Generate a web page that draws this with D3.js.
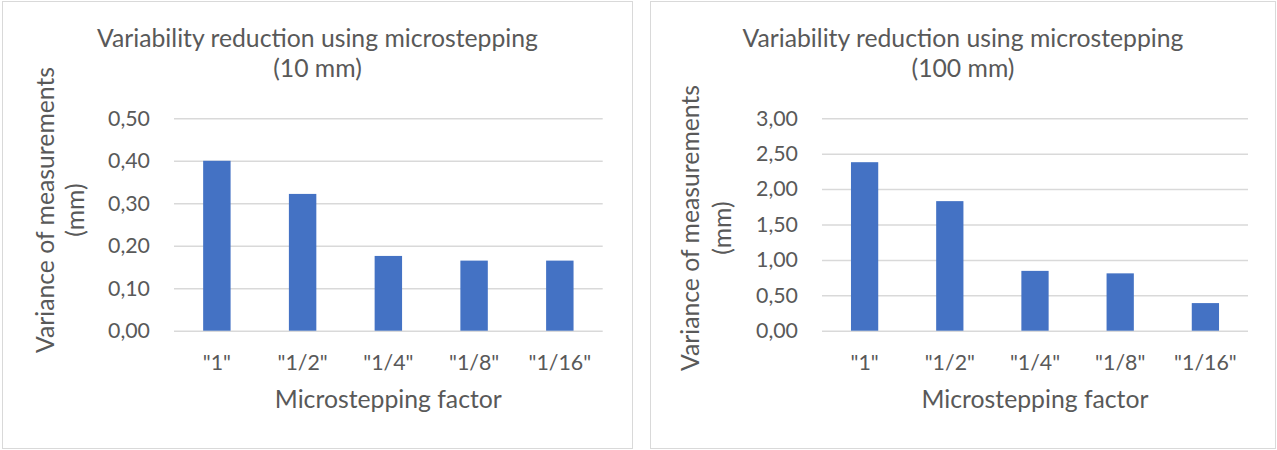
<!DOCTYPE html>
<html>
<head>
<meta charset="utf-8">
<script src="https://cdn.jsdelivr.net/npm/d3@7"></script>
<style>
  html, body { margin: 0; padding: 0; background: #ffffff; }
  svg { display: block; }
  text { font-family: Lato, "Open Sans", sans-serif; fill: #595959; }
</style>
</head>
<body>
<svg id="chart" width="1277" height="450"></svg>
<script>
// Microstepping factors along the x axis
const categories = ['"1"', '"1/2"', '"1/4"', '"1/8"', '"1/16"'];

// Variance of measurements (mm) for the 10 mm move
const variance10mm = [0.40, 0.322, 0.176, 0.165, 0.165];
// Variance of measurements (mm) for the 100 mm move
const variance100mm = [2.38, 1.83, 0.845, 0.81, 0.39];

// Value-axis ticks
const ticks10mm = [0, 0.1, 0.2, 0.3, 0.4, 0.5];
const ticks100mm = [0, 0.5, 1.0, 1.5, 2.0, 2.5, 3.0];

// Text
const titles10mm = ["Variability reduction using microstepping", "(10 mm)"];
const titles100mm = ["Variability reduction using microstepping", "(100 mm)"];
const yTitleLines = ["Variance of measurements", "(mm)"];
const xTitle = "Microstepping factor";

const svg = d3.select("#chart");

// Pick a font size so a string spans a given width
function fitSize(str, width) {
  const probe = svg.append("text").attr("font-size", 100).text(str);
  const w = probe.node().getComputedTextLength();
  probe.remove();
  return 100 * width / w;
}
const titleSize = fitSize(titles10mm[0], 441);
const axisTitleSize = fitSize(xTitle, 227);
const tickSize = fitSize("0,50", 42);

const fmt = v => d3.format(".2f")(v).replace(".", ",");

function drawChart(cfg) {
  const g = svg.append("g");

  // Chart frame
  g.append("rect")
    .attr("x", cfg.frame[0] + 0.5).attr("y", cfg.frame[1] + 0.5)
    .attr("width", cfg.frame[2] - cfg.frame[0]).attr("height", cfg.frame[3] - cfg.frame[1])
    .attr("fill", "#ffffff").attr("stroke", "#d9d9d9").attr("stroke-width", 1);

  const x = d3.scaleBand()
    .domain(categories)
    .range([cfg.plot.left, cfg.plot.right])
    .paddingInner(0.68).paddingOuter(0.34);

  const y = d3.scaleLinear()
    .domain([0, d3.max(cfg.ticks)])
    .range([cfg.plot.bottom, cfg.plot.top]);

  // Gridlines and value labels
  const yAxis = g.append("g")
    .attr("transform", `translate(${cfg.plot.left},0)`)
    .call(d3.axisLeft(y)
      .tickValues(cfg.ticks)
      .tickFormat(fmt)
      .tickSizeInner(-(cfg.plot.right - cfg.plot.left))
      .tickSizeOuter(0)
      .tickPadding(24));
  yAxis.select(".domain").remove();
  yAxis.selectAll(".tick line").attr("stroke", "#d9d9d9").attr("stroke-width", 1.5);
  yAxis.selectAll(".tick text")
    .attr("font-size", tickSize).attr("fill", "#595959")
    .style("font-family", "Lato, 'Open Sans', sans-serif");

  // Bars
  g.append("g").selectAll("rect")
    .data(cfg.values)
    .join("rect")
    .attr("x", (d, i) => x(categories[i]))
    .attr("width", x.bandwidth())
    .attr("y", d => y(d))
    .attr("height", d => y(0) - y(d))
    .attr("fill", "#4472c4");

  // Category labels
  const xAxis = g.append("g")
    .attr("transform", `translate(0,${cfg.plot.bottom})`)
    .call(d3.axisBottom(x).tickSize(0).tickPadding(24));
  xAxis.select(".domain").remove();
  xAxis.selectAll(".tick text")
    .attr("font-size", tickSize).attr("fill", "#595959")
    .style("font-family", "Lato, 'Open Sans', sans-serif");

  // Chart title
  const title = g.append("text")
    .attr("text-anchor", "middle")
    .attr("font-size", titleSize);
  cfg.titles.forEach((t, i) => {
    title.append("tspan")
      .attr("x", cfg.titleX)
      .attr("y", cfg.titleY[i])
      .text(t);
  });

  // Category axis title
  g.append("text")
    .attr("text-anchor", "middle")
    .attr("font-size", axisTitleSize)
    .attr("x", (cfg.plot.left + cfg.plot.right) / 2)
    .attr("y", cfg.xTitleY)
    .text(xTitle);

  // Value axis title (rotated, two lines)
  const yt = g.append("g")
    .attr("transform", `translate(0,${cfg.yTitleCenter}) rotate(-90)`);
  yTitleLines.forEach((t, i) => {
    yt.append("text")
      .attr("text-anchor", "middle")
      .attr("font-size", axisTitleSize)
      .attr("x", 0)
      .attr("y", cfg.yTitleX[i])
      .attr("dy", "0.35em")
      .text(t);
  });
}

drawChart({
  frame: [2, 1, 632, 448],
  plot: { left: 174, right: 602.7, top: 118.3, bottom: 330.7 },
  values: variance10mm,
  ticks: ticks10mm,
  titles: titles10mm,
  titleX: 317.5,
  titleY: [46.5, 77],
  xTitleY: 408,
  yTitleX: [45, 75],
  yTitleCenter: 210
});

drawChart({
  frame: [650, 1, 1275, 448],
  plot: { left: 822, right: 1248, top: 118.3, bottom: 330.7 },
  values: variance100mm,
  ticks: ticks100mm,
  titles: titles100mm,
  titleX: 963,
  titleY: [46.5, 77],
  xTitleY: 408,
  yTitleX: [690, 722],
  yTitleCenter: 228
});
</script>
</body>
</html>
